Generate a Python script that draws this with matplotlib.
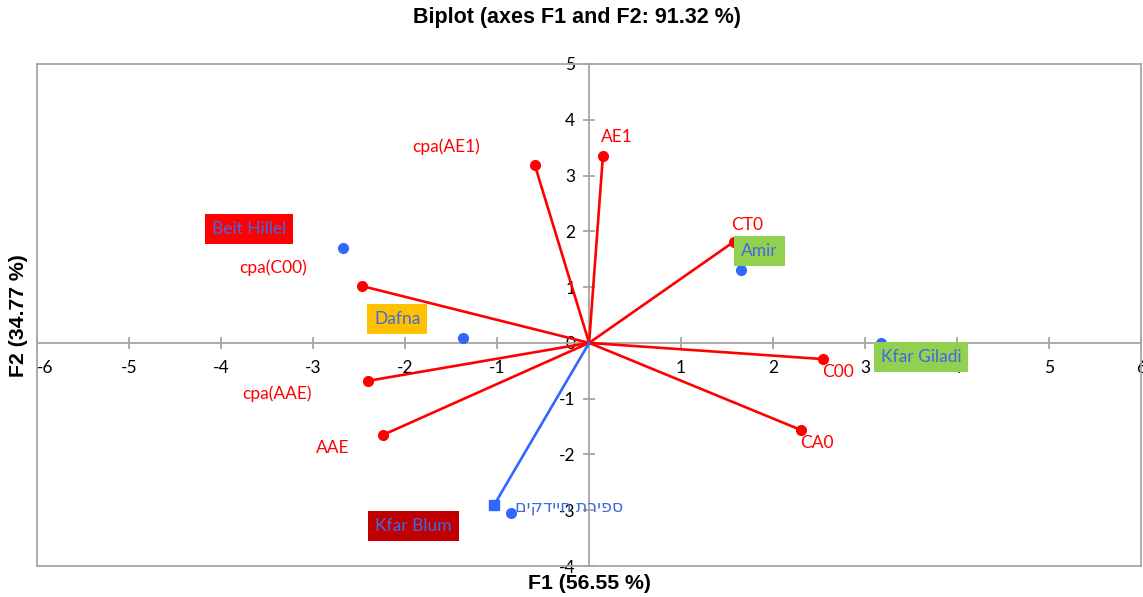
import matplotlib.pyplot as plt

plt.rcParams['font.family'] = ['Lato', 'DejaVu Sans']
plt.rcParams['axes.unicode_minus'] = False

# active variables (red vectors)
var_names = ["AE1", "cpa(AE1)", "CT0", "cpa(C00)", "C00", "cpa(AAE)", "AAE", "CA0"]
var_f1 = [0.15, -0.59, 1.57, -2.47, 2.54, -2.40, -2.24, 2.30]
var_f2 = [3.35, 3.19, 1.81, 1.02, -0.29, -0.68, -1.65, -1.56]

# observations (blue points)
obs_names = ["Beit Hillel", "Amir", "Dafna", "Kfar Giladi", "Kfar Blum"]
obs_f1 = [-2.67, 1.65, -1.37, 3.17, -0.85]
obs_f2 = [1.70, 1.31, 0.09, 0.0, -3.05]
obs_colors = ["#FF0000", "#92D050", "#FFC000", "#92D050", "#C00000"]

# supplementary variable
sup_name = "ספירת חיידקים"
sup_f1 = -1.03
sup_f2 = -2.90

RED = "#FF0000"
BLUE = "#3366FF"
TXT_BLUE = "#4169E1"
GRAY = "#A6A6A6"

fig = plt.figure(figsize=(11.43, 5.97), dpi=100)
ax = fig.add_axes([0.0324, 0.0519, 0.966, 0.8409])
ax.set_xlim(-6, 6)
ax.set_ylim(-4, 5)

for x, y in zip(var_f1, var_f2):
    ax.plot([0, x], [0, y], color=RED, lw=1.9, zorder=3)
    ax.plot(x, y, "o", color=RED, ms=7, zorder=4)

ax.plot([0, sup_f1], [0, sup_f2], color=BLUE, lw=1.9, zorder=3)
ax.plot(sup_f1, sup_f2, "s", color=BLUE, ms=7, zorder=4)

ax.plot(obs_f1, obs_f2, "o", color=BLUE, ms=7, ls="none", zorder=4)

# label offsets in points (dx, dy) from each point
var_off = [(10, 13.5), (-64, 13), (10, 12), (-64, 13.5), (11, -9.5), (-65.5, -9.5), (-36.5, -9.5), (11.5, -9.5)]
for name, x, y, (dx, dy) in zip(var_names, var_f1, var_f2, var_off):
    ax.annotate(name, (x, y), xytext=(dx, dy), textcoords="offset points",
                color=RED, fontsize=12.5, ha="center", va="center", zorder=5)

obs_off = [(-68, 14), (13.5, 13.5), (-47.5, 13.5), (29, -10), (-70, -9.5)]
for name, x, y, c, (dx, dy) in zip(obs_names, obs_f1, obs_f2, obs_colors, obs_off):
    ax.annotate(name, (x, y), xytext=(dx, dy), textcoords="offset points",
                color=TXT_BLUE, fontsize=12.5, ha="center", va="center", zorder=5,
                bbox=dict(boxstyle="square,pad=0.4", fc=c, ec="none"))

# matplotlib has no bidi support: reverse for right-to-left display
ax.annotate(sup_name[::-1], (sup_f1, sup_f2), xytext=(54, -1.5), textcoords="offset points",
            color=TXT_BLUE, fontsize=12.5, ha="center", va="center", zorder=5)

# axes through the origin
ax.spines["left"].set_position(("data", 0))
ax.spines["bottom"].set_position(("data", 0))
for s in ax.spines.values():
    s.set_color(GRAY)
    s.set_linewidth(1.3)
ax.axvline(-6, color=GRAY, lw=1.3, clip_on=False)
ax.axhline(-4, color=GRAY, lw=1.3, clip_on=False)

ax.set_xticks(range(-6, 7))
ax.set_yticks(range(-4, 6))
ax.tick_params(direction="inout", length=8, color=GRAY, width=1.3, labelsize=12.5, labelcolor="black")
ax.tick_params(axis="x", pad=8)
ax.tick_params(axis="y", pad=6)
ax.set_xticklabels([str(v) if v != 0 else "" for v in range(-6, 7)])
ax.get_xticklabels()[0].set_ha("left")

fig.text(0.505, 0.97, "Biplot (axes F1 and F2: 91.32 %)", ha="center", va="center",
         fontsize=15.5, fontweight="bold", family="Liberation Sans")
fig.text(0.516, 0.023, "F1 (56.55 %)", ha="center", va="center",
         fontsize=15.3, fontweight="bold", family="Liberation Sans")
fig.text(0.016, 0.472, "F2 (34.77 %)", ha="center", va="center", rotation=90,
         fontsize=15.3, fontweight="bold", family="Liberation Sans")

fig.savefig("out.png", dpi=100)
